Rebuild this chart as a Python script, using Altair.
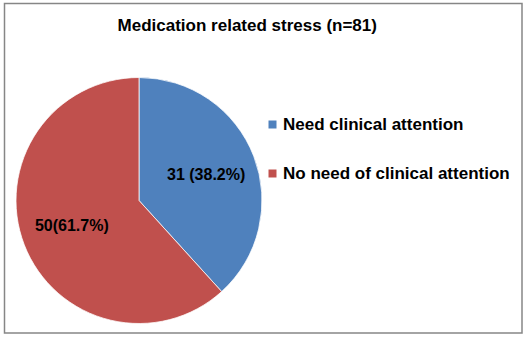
import altair as alt
import pandas as pd

categories = ["Need clinical attention", "No need of clinical attention"]
counts = [31, 50]
label_texts = ["31 (38.2%)", "50(61.7%)"]
colors = ["#4F81BD", "#C0504D"]
title_text = "Medication related stress (n=81)"

df = pd.DataFrame({
    "category": categories,
    "count": counts,
    "label": label_texts,
    "idx": list(range(len(categories))),
})

FONT = "Liberation Sans"
PL, PT = 4.5, 3.5
CX, CY, R = 139 - PL, 200.5 - PT, 123

base = alt.Chart(df).encode(
    theta=alt.Theta("count:Q", stack=True),
    order=alt.Order("idx:Q"),
)

pie = base.mark_arc(outerRadius=R, stroke="white", strokeWidth=0.75).encode(
    color=alt.Color(
        "category:N",
        scale=alt.Scale(domain=categories, range=colors),
        legend=alt.Legend(
            title=None,
            orient="none",
            legendX=264 - PL,
            legendY=116 - PT,
            symbolType="square",
            symbolSize=64,
            symbolStrokeWidth=0,
            labelFont=FONT,
            labelFontSize=17,
            labelFontWeight="bold",
            labelColor="black",
            labelLimit=400,
            labelOffset=2,
            rowPadding=31,
            padding=0,
        ),
    ),
    x=alt.value(CX),
    y=alt.value(CY),
)

labels = base.mark_text(
    radius=72, font=FONT, fontSize=16, fontWeight="bold", color="black"
).encode(
    text="label:N",
    x=alt.value(CX),
    y=alt.value(CY),
)

chart = alt.layer(pie, labels).properties(
    width=528 - PL - 6,
    height=340 - PT - 7,
    autosize=alt.AutoSizeParams(type="none"),
    padding={"left": PL, "top": PT, "right": 6, "bottom": 7},
    background="white",
    title=alt.TitleParams(
        title_text, font=FONT, fontSize=17, fontWeight="bold", color="black",
        anchor="middle", dx=-16, offset=0, dy=48, baseline="bottom",
    ),
).configure_view(stroke="#868686", strokeWidth=1.5)

chart.save("out.html", embed_options={"renderer": "svg", "actions": False})
